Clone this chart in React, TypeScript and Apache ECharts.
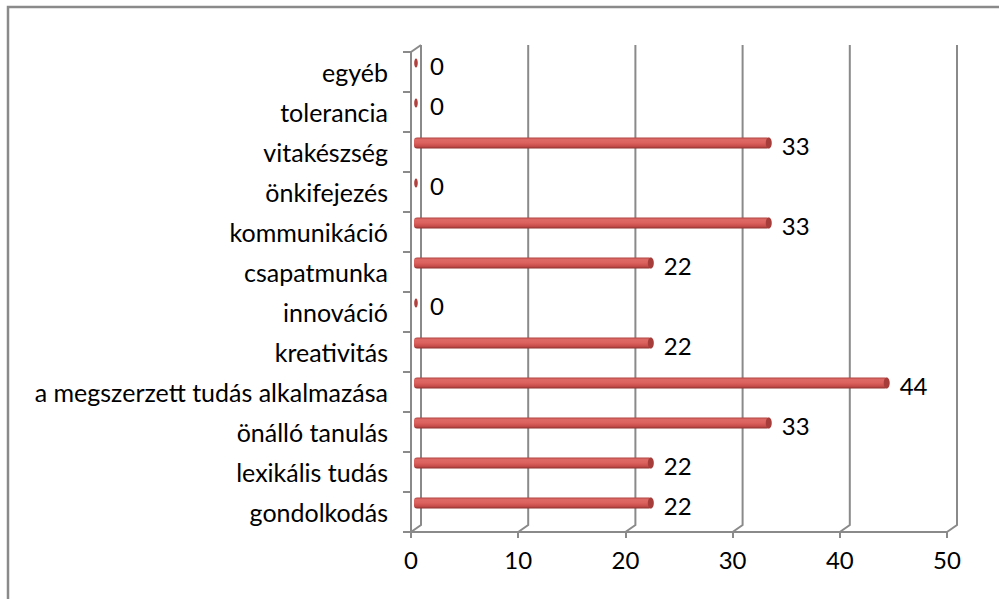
import React, { useEffect, useRef } from "react";
import * as echarts from "echarts";

const categories = [
  "gondolkodás",
  "lexikális tudás",
  "önálló tanulás",
  "a megszerzett tudás alkalmazása",
  "kreativitás",
  "innováció",
  "csapatmunka",
  "kommunikáció",
  "önkifejezés",
  "vitakészség",
  "tolerancia",
  "egyéb",
];
const values = [22, 22, 33, 44, 22, 0, 22, 33, 0, 33, 0, 0];
const xTicks = [0, 10, 20, 30, 40, 50];

const FONT = "Lato";
const FS = 24;
const CAT_FS = 25;
const GRID_COLOR = "#8a8a8a";
const DX = 10;
const DY = 7;

export default function App() {
  const ref = useRef<HTMLDivElement>(null);
  useEffect(() => {
    if (!ref.current) return;
    const chart = echarts.init(ref.current, undefined, { renderer: "svg" });
    const n = categories.length;

    const wallItem = (params: any, api: any) => {
      const v = api.value(0);
      const c0 = api.coord([v, 0]);
      const cN = api.coord([v, n - 1]);
      const band = api.size([0, 1])[1];
      const bottom = c0[1] + band / 2;
      const top = cN[1] - band / 2;
      const x = c0[0];
      const children: any[] = [
        {
          type: "polyline",
          shape: {
            points: [
              [x, bottom],
              [x + DX, bottom - DY],
              [x + DX, top - DY],
            ],
          },
          style: { stroke: GRID_COLOR, lineWidth: 2, fill: null },
        },
      ];
      if (v === 0) {
        children.push({
          type: "line",
          shape: { x1: x, y1: top, x2: x + DX, y2: top - DY },
          style: { stroke: GRID_COLOR, lineWidth: 2 },
        });
      }
      return { type: "group", children };
    };

    const barItem = (params: any, api: any) => {
      const v = api.value(0);
      const idx = api.value(1);
      const s = api.coord([0, idx]);
      const e = api.coord([v, idx]);
      const y = s[1] - 9;
      const h = 11;
      const children: any[] = [];
      let labelX;
      if (v === 0) {
        children.push({
          type: "ellipse",
          shape: { cx: s[0] + 5, cy: y, rx: 1.8, ry: 4.5 },
          style: { fill: "#b0403d" },
        });
        labelX = s[0] + 19;
      } else {
        const x0 = s[0] + 3;
        const x1 = e[0] + 5;
        children.push({
          type: "rect",
          shape: { x: x0, y: y - h / 2, width: x1 - x0, height: h, r: 3 },
          style: {
            fill: new echarts.graphic.LinearGradient(0, 0, 0, 1, [
              { offset: 0, color: "#b24643" },
              { offset: 0.2, color: "#de6a66" },
              { offset: 0.5, color: "#db615d" },
              { offset: 0.8, color: "#c44c49" },
              { offset: 1, color: "#8f302d" },
            ]),
          },
        });
        children.push({
          type: "ellipse",
          shape: { cx: x1 - 1, cy: y, rx: 3, ry: h / 2 },
          style: { fill: "#a63d3a" },
        });
        labelX = x1 + 12;
      }
      children.push({
        type: "text",
        style: {
          x: labelX,
          y: y + 2,
          text: String(v),
          fill: "#000",
          font: `${FS}px ${FONT}`,
          verticalAlign: "middle",
          align: "left",
        },
      });
      return { type: "group", children };
    };

    chart.setOption({
      animation: false,
      backgroundColor: "#fff",
      graphic: [
        {
          type: "rect",
          shape: { x: 8, y: 7, width: 1100, height: 700 },
          style: { fill: null, stroke: "#8a8a8a", lineWidth: 2.5 },
          silent: true,
          z: 100,
        },
      ],
      grid: { left: 411, top: 52, width: 536, height: 480, containLabel: false },
      xAxis: {
        type: "value",
        min: 0,
        max: 50,
        interval: 10,
        axisLine: { show: true, lineStyle: { color: GRID_COLOR, width: 2 } },
        axisTick: { show: true, length: 6, lineStyle: { color: GRID_COLOR, width: 2 } },
        splitLine: { show: false },
        axisLabel: { color: "#000", fontSize: FS, fontFamily: FONT, margin: 15 },
      },
      yAxis: {
        type: "category",
        data: categories,
        axisLine: { show: true, lineStyle: { color: GRID_COLOR, width: 2 } },
        axisTick: { show: true, length: 8, lineStyle: { color: GRID_COLOR, width: 2 } },
        axisLabel: { color: "#000", fontSize: CAT_FS, fontFamily: FONT, margin: 23, padding: [0, 0, 8, 0] },
        splitLine: { show: false },
      },
      series: [
        {
          type: "custom",
          renderItem: wallItem,
          data: xTicks.map((t) => [t]),
          encode: { x: 0 },
          clip: false,
          z: 1,
          silent: true,
        },
        {
          type: "custom",
          renderItem: barItem,
          data: values.map((v, i) => [v, i]),
          encode: { x: 0, y: 1 },
          clip: false,
          z: 5,
          silent: true,
        },
      ],
    });
    return () => chart.dispose();
  }, []);
  return (
    <div
      ref={ref}
      style={{ position: "fixed", left: 0, top: 0, width: 999, height: 599 }}
    />
  );
}
